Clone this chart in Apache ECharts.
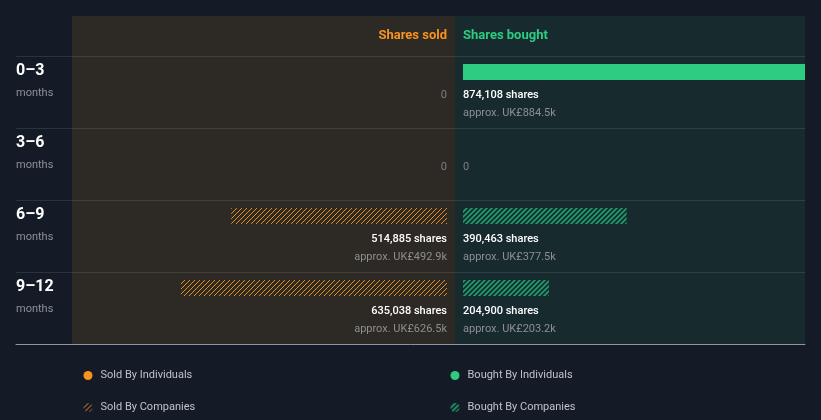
<!DOCTYPE html>
<html>
<head>
<meta charset="utf-8">
<script src="https://cdn.jsdelivr.net/npm/echarts@6/dist/echarts.min.js"></script>
<style>
html,body{margin:0;padding:0;background:#151b26;}
#c{width:821px;height:420px;}
</style>
</head>
<body>
<div id="c"></div>
<script>
// ---- data ----
const periods = ['0–3', '3–6', '6–9', '9–12'];
const periodUnit = 'months';
const soldIndividuals = [0, 0, 0, 0];
const soldCompanies = [0, 0, 514885, 635038];
const boughtIndividuals = [874108, 0, 0, 0];
const boughtCompanies = [0, 0, 390463, 204900];
const soldValueK = [0, 0, 492.9, 626.5];
const boughtValueK = [884.5, 0, 377.5, 203.2];
const currency = 'UK£';

// ---- styles ----
const ORANGE = '#f7931a';
const GREEN = '#2ecc82';
const GREEN_HATCH = '#1f9a6a';
const FONT = 'Roboto, "Noto Sans", sans-serif';

function hatch(color, size, lw) {
  const c = document.createElement('canvas');
  c.width = size; c.height = size;
  const ctx = c.getContext('2d');
  ctx.strokeStyle = color;
  ctx.lineWidth = lw;
  ctx.lineCap = 'square';
  for (let o = -size; o <= size; o += size) {
    ctx.beginPath();
    ctx.moveTo(o, size);
    ctx.lineTo(o + size, 0);
    ctx.stroke();
  }
  return { image: c, repeat: 'repeat' };
}
const orangeHatch = hatch('#ff9a1c', 5, 0.9);
const greenHatch = hatch(GREEN_HATCH, 5, 1.8);

const chart = echarts.init(document.getElementById('c'), null, { renderer: 'canvas' });

function barData(main, base) {
  return main.map((v, i) => [v, i, base ? base[i] : 0]);
}

function barRender(fill) {
  return function (params, api) {
    const v = api.value(0), i = api.value(1), b = api.value(2);
    if (!v) return null;
    const x0 = api.coord([b, i])[0];
    const x1 = api.coord([b + v, i])[0];
    const yc = api.coord([0, i])[1];
    const bandH = api.size([0, 1])[1];
    const cs = params.coordSys;
    let left = Math.min(x0, x1), right = Math.max(x0, x1);
    left = Math.max(left, cs.x); right = Math.min(right, cs.x + cs.width);
    return {
      type: 'rect',
      shape: { x: left, y: yc - bandH / 2 + 8, width: right - left, height: 16 },
      style: { fill: fill }
    };
  };
}

function labelRender(align, ind, comp, valK) {
  return function (params, api) {
    const i = api.value(1);
    const x = api.coord([0, i])[0];
    const yc = api.coord([0, i])[1];
    const top = yc - api.size([0, 1])[1] / 2;
    const total = ind[i] + comp[i];
    const children = [];
    if (!total) {
      children.push({ type: 'text', style: { x: x, y: top + 39, text: '0', fill: '#7d7f82', font: '11px ' + FONT, align: align, verticalAlign: 'middle' } });
    } else {
      children.push({ type: 'text', style: { x: x, y: top + 39, text: total.toLocaleString('en-US') + ' shares', fill: '#ffffff', font: '500 11px ' + FONT, align: align, verticalAlign: 'middle' } });
      children.push({ type: 'text', style: { x: x, y: top + 57, text: 'approx. ' + currency + valK[i].toFixed(1) + 'k', fill: '#8d8f91', font: '11px ' + FONT, align: align, verticalAlign: 'middle' } });
    }
    return { type: 'group', children: children };
  };
}

function legendAt(left, top, name, color) {
  return {
    left: left, top: top, orient: 'horizontal', itemWidth: 9, itemHeight: 9, icon: 'circle',
    textStyle: { color: '#bfc3c8', fontSize: 11, fontFamily: FONT, padding: [0, 0, 0, 3] },
    data: [{ name: name, itemStyle: { color: color } }]
  };
}

const option = {
  backgroundColor: '#151b26',
  animation: false,
  graphic: [
    { type: 'rect', z: -1, shape: { x: 72, y: 16, width: 383, height: 328 }, style: { fill: '#2d2924' } },
    { type: 'rect', z: -1, shape: { x: 455, y: 16, width: 350, height: 328 }, style: { fill: '#172b2f' } },
    { type: 'text', z: 5, style: { x: 447, y: 36, text: 'Shares sold', fill: '#f7931e', font: 'bold 13px ' + FONT, align: 'right', verticalAlign: 'middle' } },
    { type: 'text', z: 5, style: { x: 463, y: 36, text: 'Shares bought', fill: '#2ecc82', font: 'bold 13px ' + FONT, align: 'left', verticalAlign: 'middle' } }
  ],
  grid: [
    { left: 72, top: 56, width: 375, height: 288 },
    { left: 463, top: 56, width: 342, height: 288 },
    { left: 16, top: 56, width: 789, height: 288 }
  ],
  xAxis: [
    { gridIndex: 0, type: 'value', min: 0, max: 895000, inverse: true, show: false },
    { gridIndex: 1, type: 'value', min: 0, max: 816000, show: false },
    { gridIndex: 2, type: 'value', min: 0, max: 1, axisLine: { show: true, onZero: false, lineStyle: { color: '#8f959c', width: 1 } }, axisTick: { show: false }, axisLabel: { show: false }, splitLine: { show: false } }
  ],
  yAxis: [
    { gridIndex: 0, type: 'category', data: periods, inverse: true, show: false },
    { gridIndex: 1, type: 'category', data: periods, inverse: true, show: false },
    { gridIndex: 2, type: 'category', data: periods, inverse: true, axisLine: { show: false }, axisTick: { show: false }, axisLabel: { show: false }, splitLine: { show: true, lineStyle: { color: 'rgba(255,255,255,0.1)', width: 1 } } }
  ],
  legend: [
    legendAt(78.5, 365, 'Sold By Individuals', ORANGE),
    legendAt(78.5, 397, 'Sold By Companies', orangeHatch),
    legendAt(445.5, 365, 'Bought By Individuals', GREEN),
    legendAt(445.5, 397, 'Bought By Companies', greenHatch)
  ],
  series: [
    { name: 'Sold By Individuals', type: 'custom', xAxisIndex: 0, yAxisIndex: 0, itemStyle: { color: ORANGE }, renderItem: barRender(ORANGE), data: barData(soldIndividuals), encode: { x: 0, y: 1 } },
    { name: 'Sold By Companies', type: 'custom', xAxisIndex: 0, yAxisIndex: 0, itemStyle: { color: ORANGE }, renderItem: barRender(orangeHatch), data: barData(soldCompanies, soldIndividuals), encode: { x: 0, y: 1 } },
    { name: 'Bought By Individuals', type: 'custom', xAxisIndex: 1, yAxisIndex: 1, itemStyle: { color: GREEN }, renderItem: barRender(GREEN), data: barData(boughtIndividuals), encode: { x: 0, y: 1 } },
    { name: 'Bought By Companies', type: 'custom', xAxisIndex: 1, yAxisIndex: 1, itemStyle: { color: GREEN_HATCH }, renderItem: barRender(greenHatch), data: barData(boughtCompanies, boughtIndividuals), encode: { x: 0, y: 1 } },
    { name: 'soldLabels', type: 'custom', xAxisIndex: 0, yAxisIndex: 0, renderItem: labelRender('right', soldIndividuals, soldCompanies, soldValueK), data: periods.map((p, i) => [0, i]), encode: { x: 0, y: 1 } },
    { name: 'boughtLabels', type: 'custom', xAxisIndex: 1, yAxisIndex: 1, renderItem: labelRender('left', boughtIndividuals, boughtCompanies, boughtValueK), data: periods.map((p, i) => [0, i]), encode: { x: 0, y: 1 } },
    { name: 'rowLabels', type: 'custom', xAxisIndex: 2, yAxisIndex: 2,
      renderItem: function (params, api) {
        const i = api.value(1);
        const yc = api.coord([0, i])[1];
        const top = yc - api.size([0, 1])[1] / 2;
        const x = params.coordSys.x;
        return { type: 'group', children: [
          { type: 'text', style: { x: x, y: top + 15, text: periods[i], fill: '#ffffff', font: 'bold 16px ' + FONT, align: 'left', verticalAlign: 'middle' } },
          { type: 'text', style: { x: x, y: top + 37, text: periodUnit, fill: '#8b9099', font: '11px ' + FONT, align: 'left', verticalAlign: 'middle' } }
        ] };
      },
      data: periods.map((p, i) => [0, i]), encode: { x: 0, y: 1 } }
  ]
};
chart.setOption(option);
</script>
</body>
</html>
